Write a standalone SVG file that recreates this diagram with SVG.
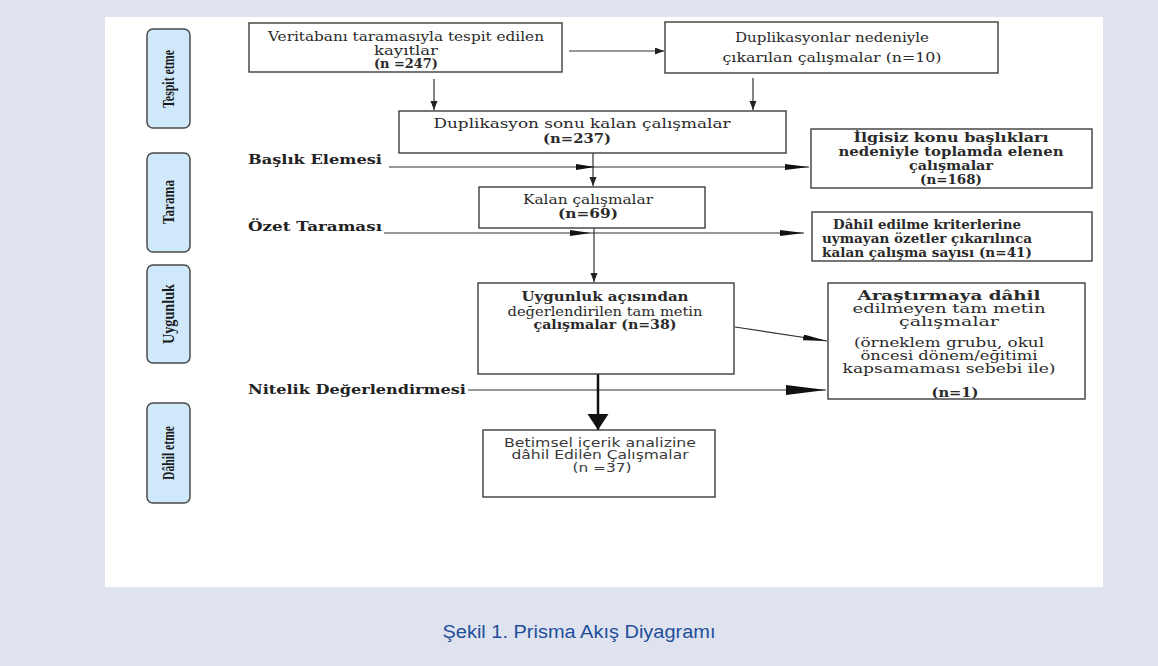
<svg xmlns="http://www.w3.org/2000/svg" width="1158" height="666" viewBox="0 0 1158 666">
<style>
.box{fill:#fff;stroke:#3c3c3c;stroke-width:1.4}
.ph{fill:#cfe8fa;stroke:#4a4a4a;stroke-width:1.5}
.pt{font-family:"Liberation Serif",serif;font-weight:bold;font-size:16px;fill:#1a1a1a}
.s{font-family:"DejaVu Serif",serif;font-size:12px;fill:#2a2a2a}
.b{font-weight:bold}
.lbl{font-family:"DejaVu Serif",serif;font-weight:bold;font-size:13px;fill:#222}
.sans{font-family:"DejaVu Sans",sans-serif;font-size:12px;fill:#3a3a3a}
.ln{stroke:#333;stroke-width:1.2;fill:none}
.thick{stroke:#111;stroke-width:2.5;fill:none}
.cap{font-family:"Liberation Sans",sans-serif;font-size:18px;fill:#1f4e9a}
</style>
<defs>
<marker id="ah" markerUnits="userSpaceOnUse" markerWidth="9" markerHeight="8" refX="9" refY="3.5" orient="auto"><path d="M0,0 L9,3.5 L0,7 z" fill="#222"/></marker>
<marker id="ahL" markerUnits="userSpaceOnUse" markerWidth="24" markerHeight="7" refX="24" refY="3" orient="auto"><path d="M0,0 L24,3 L0,6 z" fill="#111"/></marker>
<marker id="ahB" markerUnits="userSpaceOnUse" markerWidth="40" markerHeight="11" refX="40" refY="5" orient="auto"><path d="M0,0 L40,5 L0,10 z" fill="#111"/></marker>
<marker id="ahT" markerUnits="userSpaceOnUse" markerWidth="16" markerHeight="22" refX="16" refY="10.5" orient="auto"><path d="M0,0 L16,10.5 L0,21 z" fill="#111"/></marker>
</defs>
<rect x="0" y="0" width="1158" height="666" fill="#dfe3f0"/>
<rect x="105" y="17" width="998" height="570" fill="#fff"/>

<g id="phase-tespit"><rect class="ph" x="147" y="29" width="43" height="99" rx="6"/><text class="pt" transform="translate(173.5,79) rotate(-90)" text-anchor="middle" textLength="58" lengthAdjust="spacingAndGlyphs">Tespit etme</text></g>
<g id="phase-tarama"><rect class="ph" x="147" y="153" width="43" height="99" rx="6"/><text class="pt" transform="translate(173.5,202) rotate(-90)" text-anchor="middle" textLength="44" lengthAdjust="spacingAndGlyphs">Tarama</text></g>
<g id="phase-uygunluk"><rect class="ph" x="147" y="265" width="43" height="98" rx="6"/><text class="pt" transform="translate(173.5,314) rotate(-90)" text-anchor="middle" textLength="60" lengthAdjust="spacingAndGlyphs">Uygunluk</text></g>
<g id="phase-dahil"><rect class="ph" x="147" y="403" width="43" height="100" rx="6"/><text class="pt" transform="translate(173.5,453) rotate(-90)" text-anchor="middle" textLength="54" lengthAdjust="spacingAndGlyphs">Dâhil etme</text></g>

<g id="connectors">
<path class="ln" d="M569,51 H664" marker-end="url(#ah)"/>
<path class="ln" d="M434,79 V110" marker-end="url(#ah)"/>
<path class="ln" d="M753,78 V110" marker-end="url(#ah)"/>
<path class="ln" d="M593,153 V186" marker-end="url(#ah)"/>
<path class="ln" d="M389,167 H809" marker-end="url(#ahL)"/>
<polygon points="576,164 595,167 576,170" fill="#111"/>
<path class="ln" d="M594,228 V282" marker-end="url(#ah)"/>
<path class="ln" d="M384,233 H804" marker-end="url(#ahL)"/>
<polygon points="570,230 591,233 570,236" fill="#111"/>
<path class="ln" d="M735,327 L827,341" marker-end="url(#ahL)"/>
<path class="ln" d="M468,390 H826" marker-end="url(#ahB)"/>
<path class="thick" d="M598,374 V430" marker-end="url(#ahT)"/>
</g>

<g id="n247"><rect class="box" x="249" y="23" width="313" height="49"/>
<text class="s" x="406" y="41" text-anchor="middle" textLength="276" lengthAdjust="spacingAndGlyphs">Veritabanı taramasıyla tespit edilen</text>
<text class="s" x="406" y="55" text-anchor="middle" textLength="64" lengthAdjust="spacingAndGlyphs">kayıtlar</text>
<text class="s b" x="406" y="68" text-anchor="middle" textLength="64" lengthAdjust="spacingAndGlyphs">(n =247)</text></g>

<g id="n10"><rect class="box" x="665" y="22" width="333" height="51"/>
<text class="s" x="832" y="42" text-anchor="middle" textLength="194" lengthAdjust="spacingAndGlyphs">Duplikasyonlar nedeniyle</text>
<text class="s" x="832" y="62" text-anchor="middle" textLength="219" lengthAdjust="spacingAndGlyphs">çıkarılan çalışmalar (n=10)</text></g>

<g id="n237"><rect class="box" x="399" y="111" width="387" height="42"/>
<text class="s" x="582" y="128" text-anchor="middle" style="font-size:13px" textLength="297" lengthAdjust="spacingAndGlyphs">Duplikasyon sonu kalan çalışmalar</text>
<text class="s b" x="577" y="143" text-anchor="middle" style="font-size:13px" textLength="68" lengthAdjust="spacingAndGlyphs">(n=237)</text></g>

<g id="n69"><rect class="box" x="479" y="187" width="226" height="41"/>
<text class="s" x="588" y="204" text-anchor="middle" textLength="130" lengthAdjust="spacingAndGlyphs">Kalan çalışmalar</text>
<text class="s b" x="588" y="218" text-anchor="middle" textLength="60" lengthAdjust="spacingAndGlyphs">(n=69)</text></g>

<g id="n168"><rect class="box" x="811" y="129" width="281" height="59"/>
<text class="s b" x="951" y="142" text-anchor="middle" textLength="195" lengthAdjust="spacingAndGlyphs">İlgisiz konu başlıkları</text>
<text class="s b" x="951" y="156" text-anchor="middle" textLength="225" lengthAdjust="spacingAndGlyphs">nedeniyle toplamda elenen</text>
<text class="s b" x="951" y="170" text-anchor="middle" textLength="84" lengthAdjust="spacingAndGlyphs">çalışmalar</text>
<text class="s b" x="951" y="184" text-anchor="middle" textLength="62" lengthAdjust="spacingAndGlyphs">(n=168)</text></g>

<g id="n41"><rect class="box" x="812" y="212" width="280" height="49"/>
<text class="s b" x="927" y="229" text-anchor="middle" textLength="188" lengthAdjust="spacingAndGlyphs">Dâhil edilme kriterlerine</text>
<text class="s b" x="927" y="243" text-anchor="middle" textLength="210" lengthAdjust="spacingAndGlyphs">uymayan özetler çıkarılınca</text>
<text class="s b" x="927" y="257" text-anchor="middle" textLength="210" lengthAdjust="spacingAndGlyphs">kalan çalışma sayısı (n=41)</text></g>

<g id="n38"><rect class="box" x="478" y="283" width="256" height="91"/>
<text class="s b" x="605" y="301" text-anchor="middle" textLength="167" lengthAdjust="spacingAndGlyphs">Uygunluk açısından</text>
<text class="s" x="605" y="316" text-anchor="middle" textLength="195" lengthAdjust="spacingAndGlyphs">değerlendirilen tam metin</text>
<text class="s b" x="605" y="329" text-anchor="middle" textLength="143" lengthAdjust="spacingAndGlyphs">çalışmalar (n=38)</text></g>

<g id="n1"><rect class="box" x="828" y="283" width="257" height="116"/>
<text class="s b" x="949" y="300" text-anchor="middle" textLength="183" lengthAdjust="spacingAndGlyphs">Araştırmaya dâhil</text>
<text class="s" x="949" y="313" text-anchor="middle" textLength="193" lengthAdjust="spacingAndGlyphs">edilmeyen tam metin</text>
<text class="s" x="949" y="326" text-anchor="middle" textLength="100" lengthAdjust="spacingAndGlyphs">çalışmalar</text>
<text class="s" x="949" y="347" text-anchor="middle" textLength="190" lengthAdjust="spacingAndGlyphs">(örneklem grubu, okul</text>
<text class="s" x="949" y="360" text-anchor="middle" textLength="177" lengthAdjust="spacingAndGlyphs">öncesi dönem/eğitimi</text>
<text class="s" x="949" y="373" text-anchor="middle" textLength="213" lengthAdjust="spacingAndGlyphs">kapsamaması sebebi ile)</text>
<text class="s b" x="955" y="397" text-anchor="middle" textLength="47" lengthAdjust="spacingAndGlyphs">(n=1)</text></g>

<g id="n37"><rect class="box" x="483" y="430" width="232" height="67"/>
<text class="sans" x="600" y="447" text-anchor="middle" textLength="192" lengthAdjust="spacingAndGlyphs">Betimsel içerik analizine</text>
<text class="sans" x="600" y="459" text-anchor="middle" textLength="177" lengthAdjust="spacingAndGlyphs">dâhil Edilen Çalışmalar</text>
<text class="sans" x="602" y="472" text-anchor="middle" textLength="59" lengthAdjust="spacingAndGlyphs">(n =37)</text></g>

<g id="labels">
<text class="lbl" x="248" y="164" textLength="134" lengthAdjust="spacingAndGlyphs">Başlık Elemesi</text>
<text class="lbl" x="248" y="231" textLength="134" lengthAdjust="spacingAndGlyphs">Özet Taraması</text>
<text class="lbl" x="248" y="394" textLength="218" lengthAdjust="spacingAndGlyphs">Nitelik Değerlendirmesi</text>
</g>

<text class="cap" x="579" y="638" text-anchor="middle" textLength="273" lengthAdjust="spacingAndGlyphs">Şekil 1. Prisma Akış Diyagramı</text>
</svg>
